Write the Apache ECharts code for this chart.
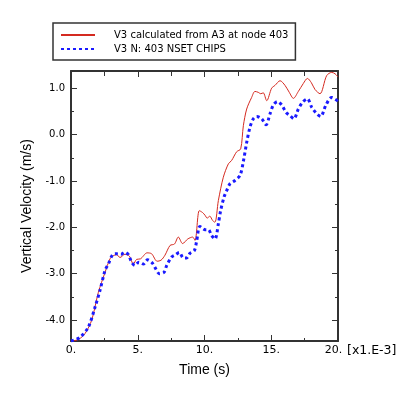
<!DOCTYPE html>
<html>
<head>
<meta charset="utf-8">
<script src="https://cdn.jsdelivr.net/npm/echarts@6/dist/echarts.min.js"></script>
<style>
  html, body { margin: 0; padding: 0; background: #fff; }
  #chart { width: 419px; height: 399px; }
</style>
</head>
<body>
<div id="chart"></div>
<script>
// time in ms (x1.E-3 s), velocity in m/s
const redTime = [0, 0.3, 0.6, 1.05, 1.55, 2.05, 2.55, 2.92, 3.17, 3.42, 3.67, 4.04, 4.37, 4.67, 4.92, 5.2, 5.7, 6.04, 6.45, 6.74, 7.04, 7.42, 7.75, 8.04, 8.36, 8.75, 9.11, 9.29, 9.61, 9.85, 10.04, 10.2, 10.4, 10.6, 10.78, 11.04, 11.41, 11.79, 12.03, 12.41, 12.71, 12.91, 13.16, 13.53, 13.78, 14.03, 14.21, 14.4, 14.66, 15.03, 15.28, 15.66, 16.03, 16.35, 16.66, 17.03, 17.4, 17.71, 18.0, 18.28, 18.65, 19.15, 19.53, 19.78, 20.0];
const redVel = [-4.46, -4.44, -4.41, -4.29, -4.0, -3.40, -2.97, -2.68, -2.61, -2.59, -2.65, -2.58, -2.62, -2.79, -2.69, -2.68, -2.55, -2.57, -2.73, -2.71, -2.60, -2.39, -2.36, -2.21, -2.35, -2.25, -2.21, -2.28, -1.64, -1.68, -1.74, -1.80, -1.76, -1.85, -1.89, -1.42, -0.92, -0.63, -0.56, -0.37, -0.31, 0.19, 0.55, 0.80, 0.93, 0.91, 0.88, 0.90, 0.73, 1.0, 1.06, 1.16, 1.06, 0.91, 0.78, 0.93, 1.10, 1.21, 1.12, 0.97, 0.88, 1.27, 1.34, 1.31, 1.24];

const blueTime = [0, 0.67, 1.3, 1.8, 2.17, 2.55, 2.8, 3.12, 3.42, 3.74, 4.04, 4.3, 4.54, 4.79, 5.09, 5.42, 5.74, 6.09, 6.34, 6.62, 6.97, 7.17, 7.54, 7.84, 8.11, 8.42, 8.66, 8.91, 9.24, 9.41, 9.66, 10.04, 10.29, 10.54, 10.79, 11.04, 11.21, 11.46, 11.66, 11.91, 12.28, 12.66, 12.91, 13.16, 13.41, 13.66, 13.91, 14.28, 14.61, 14.91, 15.16, 15.46, 15.78, 16.1, 16.4, 16.7, 17.03, 17.36, 17.71, 18.03, 18.4, 18.7, 19.1, 19.53, 20.0];
const blueVel = [-4.45, -4.37, -4.15, -3.72, -3.36, -2.93, -2.79, -2.59, -2.57, -2.58, -2.54, -2.59, -2.75, -2.82, -2.75, -2.79, -2.70, -2.77, -2.89, -3.0, -2.97, -2.82, -2.64, -2.59, -2.54, -2.66, -2.66, -2.56, -2.50, -2.30, -1.98, -2.05, -2.05, -2.18, -2.25, -1.92, -1.64, -1.35, -1.21, -1.06, -0.99, -0.88, -0.58, -0.17, 0.16, 0.34, 0.39, 0.34, 0.21, 0.45, 0.64, 0.71, 0.64, 0.48, 0.41, 0.34, 0.55, 0.70, 0.77, 0.59, 0.45, 0.39, 0.64, 0.80, 0.72];

const yMajorTicks = [-4, -3, -2, -1, 0, 1];
const yMinorTicks = [-3.5, -2.5, -1.5, -0.5, 0.5];

const redName = "V3 calculated from A3 at node 403";
const blueName = "V3 N: 403 NSET CHIPS";

const chart = echarts.init(document.getElementById("chart"));

const axisLine = { show: true, onZero: false, lineStyle: { color: "#333", width: 2 } };
const tickLine = { color: "#333", width: 1 };

function yAxisDef(position, major, showLine, labels) {
  return {
    type: "value",
    position: position,
    min: -4.45,
    max: 1.37,
    splitLine: { show: false },
    axisLine: showLine ? axisLine : { show: false, onZero: false },
    axisTick: {
      show: true,
      inside: true,
      length: major ? 6 : 3,
      customValues: major ? yMajorTicks : yMinorTicks,
      lineStyle: tickLine,
    },
    axisLabel: labels
      ? {
          show: true,
          customValues: yMajorTicks,
          formatter: (v) => v.toFixed(1),
          margin: 6,
          fontFamily: "DejaVu Sans",
          fontSize: 10,
          color: "#000",
        }
      : { show: false },
  };
}

const option = {
  animation: false,
  backgroundColor: "#fff",
  grid: { left: 71, right: 81, top: 71, bottom: 58, outerBoundsMode: "none" },
  legend: {
    orient: "vertical",
    left: 53,
    top: 23,
    padding: [7, 7, 6, 7],
    itemWidth: 34,
    itemHeight: 10,
    itemGap: 4,
    borderColor: "#333",
    borderWidth: 1.5,
    borderRadius: 0,
    backgroundColor: "#fff",
    itemStyle: { opacity: 0 },
    textStyle: {
      fontFamily: "DejaVu Sans",
      fontSize: 10,
      lineHeight: 10,
      color: "#000",
      padding: [0, 0, 0, 14],
    },
    data: [redName, blueName],
  },
  xAxis: [
    {
      type: "value",
      position: "bottom",
      min: 0,
      max: 20,
      interval: 5,
      name: "Time (s)",
      nameLocation: "middle",
      nameGap: 22,
      nameTextStyle: { fontFamily: "Liberation Sans", fontSize: 14, color: "#000" },
      splitLine: { show: false },
      axisLine: axisLine,
      axisTick: { inside: true, length: 6, lineStyle: tickLine },
      minorTick: { show: true, splitNumber: 2, length: 3, lineStyle: tickLine },
      minorSplitLine: { show: false },
      axisLabel: {
        formatter: (v) => (v === 20 ? "{end|" + v + ".}" : v + "."),
        margin: 4,
        fontFamily: "DejaVu Sans",
        fontSize: 11,
        color: "#000",
        rich: {
          end: { fontFamily: "DejaVu Sans", fontSize: 11, color: "#000", padding: [0, 9, 0, 0] },
        },
      },
    },
    {
      type: "value",
      position: "top",
      min: 0,
      max: 20,
      interval: 5,
      splitLine: { show: false },
      axisLine: axisLine,
      axisTick: { inside: true, length: 6, lineStyle: tickLine },
      minorTick: { show: true, splitNumber: 2, length: 5, lineStyle: tickLine },
      axisLabel: { show: false },
    },
  ],
  yAxis: [
    {
      ...yAxisDef("left", true, true, true),
      name: "Vertical Velocity (m/s)",
      nameLocation: "middle",
      nameGap: 34,
      nameTextStyle: { fontFamily: "Liberation Sans", fontSize: 14, color: "#000" },
    },
    yAxisDef("left", false, false, false),
    yAxisDef("right", true, true, false),
    yAxisDef("right", false, false, false),
  ],
  graphic: [
    {
      type: "text",
      left: 347,
      top: 344,
      style: { text: "[x1.E-3]", font: "12.5px 'DejaVu Sans'", fill: "#000" },
    },
  ],
  series: [
    {
      name: redName,
      type: "line",
      xAxisIndex: 0,
      yAxisIndex: 0,
      symbol: "none",
      smooth: 0.3,
      lineStyle: { color: "#d42a20", width: 1 },
      itemStyle: { color: "#d42a20" },
      data: redTime.map((t, i) => [t, redVel[i]]),
    },
    {
      name: blueName,
      type: "line",
      xAxisIndex: 0,
      yAxisIndex: 0,
      symbol: "none",
      smooth: 0.3,
      lineStyle: { color: "#1a1aff", width: 3, type: [3, 3] },
      itemStyle: { color: "#1a1aff" },
      data: blueTime.map((t, i) => [t, blueVel[i]]),
    },
  ],
};

chart.setOption(option);
</script>
</body>
</html>
